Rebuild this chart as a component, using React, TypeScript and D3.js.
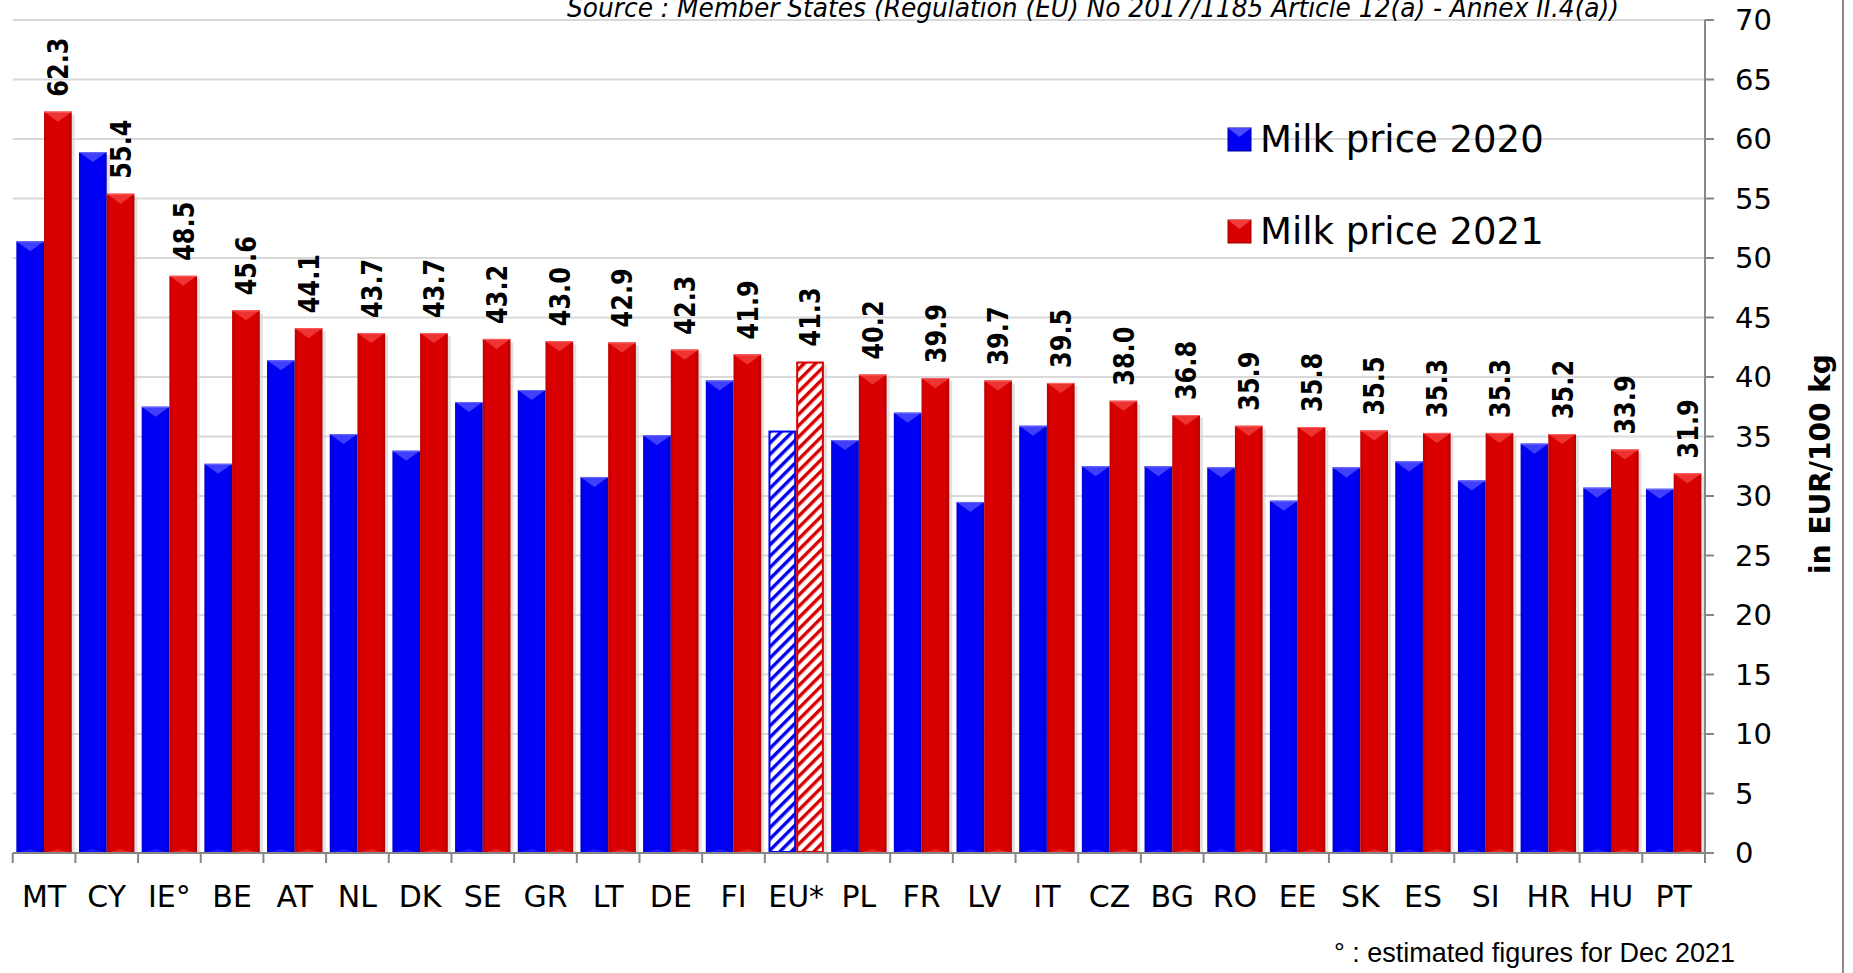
import React from "react";
import * as d3 from "d3";

const categories = ["MT","CY","IE°","BE","AT","NL","DK","SE","GR","LT","DE","FI","EU*","PL","FR","LV","IT","CZ","BG","RO","EE","SK","ES","SI","HR","HU","PT"];
const price2020 = [51.4,58.9,37.5,32.7,41.4,35.2,33.8,37.9,38.9,31.6,35.1,39.7,35.5,34.7,37.0,29.5,35.9,32.5,32.5,32.4,29.6,32.4,32.9,31.3,34.4,30.7,30.6];
const price2021 = [62.3,55.4,48.5,45.6,44.1,43.7,43.7,43.2,43.0,42.9,42.3,41.9,41.3,40.2,39.9,39.7,39.5,38.0,36.8,35.9,35.8,35.5,35.3,35.3,35.2,33.9,31.9];
const seriesNames = ["Milk price 2020", "Milk price 2021"];
const yTicks = [0,5,10,15,20,25,30,35,40,45,50,55,60,65,70];
const hatchedCategory = "EU*";
const sourceText = "Source : Member States (Regulation (EU) No 2017/1185 Article 12(a) - Annex II.4(a))";
const footnote = "° : estimated figures for Dec 2021";
const axisTitle = "in EUR/100 kg";

const W = 1853, H = 973;
const plotLeft = 12.7, plotRight = 1705, plotTop = 20, plotBottom = 853;

const BLUE = "#0000f2";
const RED = "#d80000";

export default function App() {
  const x = d3.scaleBand<string>().domain(categories).range([plotLeft, plotRight]).paddingInner(0).paddingOuter(0);
  const inner = d3.scaleBand<string>().domain(["2020","2021"]).range([0, x.bandwidth()]).paddingInner(0).paddingOuter(0.131);
  const y = d3.scaleLinear().domain([0, 70]).range([plotBottom, plotTop]);
  const bw = inner.bandwidth();
  const font = "'DejaVu Sans', Verdana, sans-serif";

  const bar = (cat: string, key: string, v: number, i: number) => {
    const bx = x(cat)! + inner(key)!;
    const by = y(v);
    const h = plotBottom - by;
    const is20 = key === "2020";
    const col = is20 ? BLUE : RED;
    if (cat === hatchedCategory) {
      return (
        <g key={key + i}>
          <rect x={bx + 3} y={by + 3} width={bw} height={h - 3} fill="#d0d0d0" opacity={0.6} />
          <rect x={bx + 1} y={by + 1} width={bw - 2} height={h - 2} fill={`url(#hatch${key})`} stroke={col} strokeWidth={2} />
        </g>
      );
    }
    const bev = Math.min(10, h / 2);
    return (
      <g key={key + i}>
        <rect x={bx + 3} y={by + 3} width={bw} height={h - 3} fill="#cfcfcf" opacity={0.6} />
        <rect x={bx} y={by} width={bw} height={h} fill={`url(#grad${key})`} />
        <polygon points={`${bx},${by} ${bx + bw},${by} ${bx + bw / 2},${by + bev}`} fill={is20 ? "#4a4aff" : "#f23c3c"} opacity={0.85} />
        <line x1={bx} x2={bx + bw} y1={by + 0.5} y2={by + 0.5} stroke={is20 ? "#6a6aff" : "#ff6060"} strokeWidth={1} />
        <polygon points={`${bx},${plotBottom} ${bx + bw},${plotBottom} ${bx + bw / 2},${plotBottom - 4}`} fill={is20 ? "#3030ff" : "#e84040"} opacity={0.6} />
      </g>
    );
  };

  return (
    <svg width={W} height={H} style={{ position: "absolute", left: 0, top: 0, background: "#fff" }} xmlns="http://www.w3.org/2000/svg">
      <defs>
        <linearGradient id="grad2020" x1="0" x2="1" y1="0" y2="0">
          <stop offset="0" stopColor="#0000d8" />
          <stop offset="0.12" stopColor={BLUE} />
          <stop offset="0.85" stopColor={BLUE} />
          <stop offset="1" stopColor="#0000c8" />
        </linearGradient>
        <linearGradient id="grad2021" x1="0" x2="1" y1="0" y2="0">
          <stop offset="0" stopColor="#c00000" />
          <stop offset="0.12" stopColor={RED} />
          <stop offset="0.85" stopColor={RED} />
          <stop offset="1" stopColor="#b40000" />
        </linearGradient>
        <pattern id="hatch2020" patternUnits="userSpaceOnUse" width={8} height={8} patternTransform="rotate(45)">
          <rect width={8} height={8} fill="#fff" />
          <rect width={3.4} height={8} fill={BLUE} />
        </pattern>
        <pattern id="hatch2021" patternUnits="userSpaceOnUse" width={8} height={8} patternTransform="rotate(45)">
          <rect width={8} height={8} fill="#fff" />
          <rect width={3.4} height={8} fill={RED} />
        </pattern>
      </defs>

      {/* gridlines */}
      {yTicks.filter(t => t > 0).map(t => (
        <line key={"g" + t} x1={plotLeft} x2={plotRight} y1={y(t)} y2={y(t)} stroke="#d9d9d9" strokeWidth={2} />
      ))}

      {/* source */}
      <text x={567} y={17} fontFamily="'DejaVu Sans Condensed', 'DejaVu Sans', sans-serif" fontStyle="italic" fontSize={27} textLength={1052} lengthAdjust="spacingAndGlyphs" fill="#000">{sourceText}</text>

      {/* bars */}
      {categories.map((c, i) => (
        <g key={c}>
          {bar(c, "2020", price2020[i], i)}
          {bar(c, "2021", price2021[i], i)}
        </g>
      ))}

      {/* value labels */}
      {categories.map((c, i) => {
        const cx = x(c)! + inner("2021")! + bw / 2;
        const ty = y(price2021[i]) - 15;
        return (
          <text key={"v" + c} transform={`translate(${cx},${ty}) rotate(-90) scale(1,1.2)`} dy="0.36em" fontFamily={font} fontWeight="bold" fontSize={24} fill="#000">
            {price2021[i].toFixed(1)}
          </text>
        );
      })}

      {/* x axis */}
      <line x1={plotLeft} x2={plotRight} y1={plotBottom} y2={plotBottom} stroke="#868686" strokeWidth={2} />
      {categories.map(c => (
        <line key={"xt" + c} x1={x(c)!} x2={x(c)!} y1={plotBottom} y2={plotBottom + 10} stroke="#868686" strokeWidth={2} />
      ))}
      <line x1={plotRight} x2={plotRight} y1={plotBottom} y2={plotBottom + 10} stroke="#868686" strokeWidth={2} />
      {categories.map(c => (
        <text key={"xl" + c} x={x(c)! + x.bandwidth() / 2} y={907} textAnchor="middle" fontFamily={font} fontSize={30} fill="#000">{c}</text>
      ))}

      {/* y axis */}
      <line x1={plotRight} x2={plotRight} y1={plotTop} y2={plotBottom} stroke="#868686" strokeWidth={2} />
      {yTicks.map(t => (
        <g key={"yt" + t}>
          <line x1={plotRight} x2={plotRight + 9} y1={y(t)} y2={y(t)} stroke="#868686" strokeWidth={2} />
          <text x={1735} y={y(t)} dy="0.36em" fontFamily={font} fontSize={29} fill="#000">{t}</text>
        </g>
      ))}
      <text transform={`translate(1820,464) rotate(-90)`} dy="0.36em" textAnchor="middle" fontFamily={font} fontWeight="bold" fontSize={28} fill="#000">{axisTitle}</text>

      {/* legend */}
      {seriesNames.map((s, i) => {
        const ly = [139, 231][i];
        const col = i === 0 ? BLUE : RED;
        return (
          <g key={s}>
            <rect x={1228} y={ly - 11} width={23} height={23} fill={col} stroke={i === 0 ? "#0000a0" : "#a00000"} strokeWidth={1} />
            <polygon points={`${1228},${ly - 11} ${1251},${ly - 11} ${1239.5},${ly - 2}`} fill={i === 0 ? "#4a4aff" : "#f23c3c"} />
            <text x={1260} y={ly} dy="0.36em" fontFamily={font} fontSize={37} fill="#000">{s}</text>
          </g>
        );
      })}

      {/* footnote */}
      <text x={1735} y={962} textAnchor="end" fontFamily="'Liberation Sans', Arial, sans-serif" fontSize={27} fill="#000">{footnote}</text>

      {/* right border */}
      <line x1={1843} x2={1843} y1={0} y2={H} stroke="#8a8a8a" strokeWidth={2} />
    </svg>
  );
}
